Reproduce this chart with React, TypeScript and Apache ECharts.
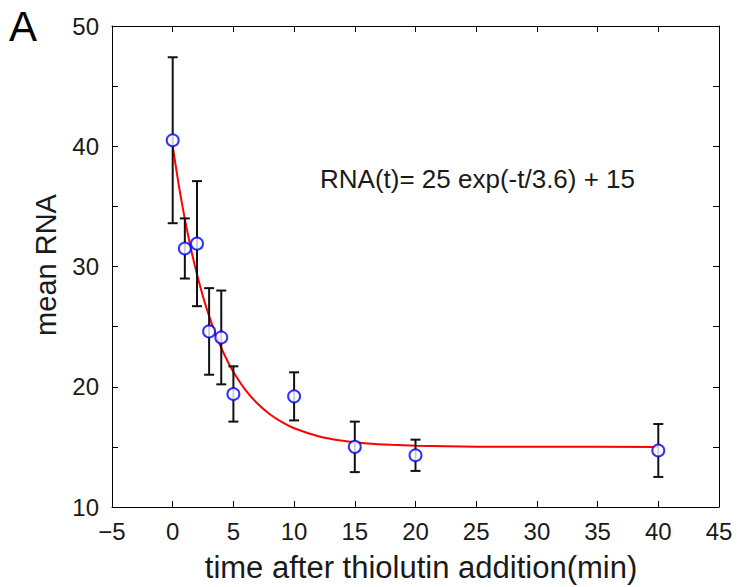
import React, { useEffect, useRef } from 'react';
import * as echarts from 'echarts';

const timePoints = [0, 1, 2, 3, 4, 5, 10, 15, 20, 40];
const meanRNA = [40.5, 31.5, 31.9, 24.6, 24.1, 19.4, 19.2, 15.0, 14.3, 14.7];
const errLow = [33.6, 29.0, 26.7, 21.0, 20.2, 17.1, 17.2, 12.9, 13.0, 12.5];
const errHigh = [47.4, 34.0, 37.1, 28.2, 28.0, 21.7, 21.2, 17.1, 15.6, 16.9];

// fit curve RNA(t) = 25 exp(-t/3.6) + 15, tabulated
const fitT = [0, 0.5, 1, 1.5, 2, 2.5, 3, 3.5, 4, 4.5, 5, 6, 7, 8, 9, 10, 12, 14, 16, 18, 20, 25, 30, 40];
const fitRNA = [40, 36.76, 33.94, 31.48, 29.35, 27.49, 25.87, 24.46, 23.23, 22.16, 21.23, 19.72, 18.58, 17.71, 17.05, 16.55, 15.89, 15.51, 15.29, 15.17, 15.1, 15.02, 15.01, 15.0];

const panelLabel = 'A';
const equationText = 'RNA(t)= 25 exp(-t/3.6) + 15';
const xTitle = 'time after thiolutin addition(min)';
const yTitle = 'mean RNA';

const FONT = '"Liberation Sans", Arial, Helvetica, sans-serif';
const TEXT = '#1a1a1a';

export default function App() {
  const ref = useRef<HTMLDivElement>(null);
  useEffect(() => {
    if (!ref.current) return;
    const chart = echarts.init(ref.current, null, { renderer: 'svg' });
    const axisCommon = {
      axisLine: { show: true, onZero: false, lineStyle: { color: '#000', width: 1 } },
      axisTick: { show: true, inside: true, length: 6, lineStyle: { color: '#000', width: 1 } },
      splitLine: { show: false },
    };
    chart.setOption({
      animation: false,
      backgroundColor: '#fff',
      grid: { left: 112, right: 19, top: 26, bottom: 80, containLabel: false },
      xAxis: [
        {
          type: 'value', min: -5, max: 45, interval: 5, position: 'bottom',
          ...axisCommon,
          axisLabel: {
            color: TEXT, fontSize: 24, fontFamily: FONT, margin: 12,
            formatter: (v: number) => String(v).replace('-', '\u2212'),
          },
        },
        {
          type: 'value', min: -5, max: 45, interval: 5, position: 'top',
          ...axisCommon, axisLabel: { show: false },
        },
      ],
      yAxis: [
        {
          type: 'value', min: 10, max: 50, interval: 5, position: 'left',
          ...axisCommon,
          axisLabel: {
            color: TEXT, fontSize: 24, fontFamily: FONT, margin: 13,
            formatter: (v: number) => (v % 10 === 0 ? String(v) : ''),
          },
        },
        {
          type: 'value', min: 10, max: 50, interval: 5, position: 'right',
          ...axisCommon, axisLabel: { show: false },
        },
      ],
      series: [
        {
          type: 'line',
          xAxisIndex: 0, yAxisIndex: 0,
          data: fitT.map((t, i) => [t, fitRNA[i]]),
          smooth: 0.2,
          showSymbol: false,
          lineStyle: { color: '#ff0000', width: 2 },
          z: 2,
        },
        {
          type: 'custom',
          xAxisIndex: 0, yAxisIndex: 0,
          data: timePoints.map((t, i) => [t, errLow[i], errHigh[i]]),
          renderItem: (params: any, api: any) => {
            const lo = api.coord([api.value(0), api.value(1)]);
            const hi = api.coord([api.value(0), api.value(2)]);
            const hw = 5;
            const style = { stroke: '#111', lineWidth: 2 };
            return {
              type: 'group',
              children: [
                { type: 'line', shape: { x1: lo[0], y1: lo[1], x2: hi[0], y2: hi[1] }, style },
                { type: 'line', shape: { x1: lo[0] - hw, y1: lo[1], x2: lo[0] + hw, y2: lo[1] }, style },
                { type: 'line', shape: { x1: hi[0] - hw, y1: hi[1], x2: hi[0] + hw, y2: hi[1] }, style },
              ],
            };
          },
          z: 3,
        },
        {
          type: 'scatter',
          xAxisIndex: 0, yAxisIndex: 0,
          data: timePoints.map((t, i) => [t, meanRNA[i]]),
          symbol: 'circle',
          symbolSize: 12,
          itemStyle: { color: '#fff', borderColor: '#0000ff', borderWidth: 2 },
          z: 4,
        },
      ],
      graphic: [
        {
          type: 'text', left: 9, top: 5,
          style: { text: panelLabel, fontSize: 42, fontFamily: FONT, fill: '#000' },
        },
        {
          type: 'text', x: 320, y: 179,
          style: { text: equationText, fontSize: 26, fontFamily: FONT, fill: TEXT, verticalAlign: 'middle' },
        },
        {
          type: 'text', x: 421, y: 567,
          style: { text: xTitle, fontSize: 31, fontFamily: FONT, fill: TEXT, align: 'center', verticalAlign: 'middle' },
        },
        {
          type: 'text', x: 46, y: 265, rotation: Math.PI / 2,
          style: { text: yTitle, fontSize: 29, fontFamily: FONT, fill: TEXT, align: 'center', verticalAlign: 'middle' },
        },
      ],
    });
    return () => chart.dispose();
  }, []);
  return <div ref={ref} style={{ width: 738, height: 587, position: 'absolute', left: 0, top: 0 }} />;
}
